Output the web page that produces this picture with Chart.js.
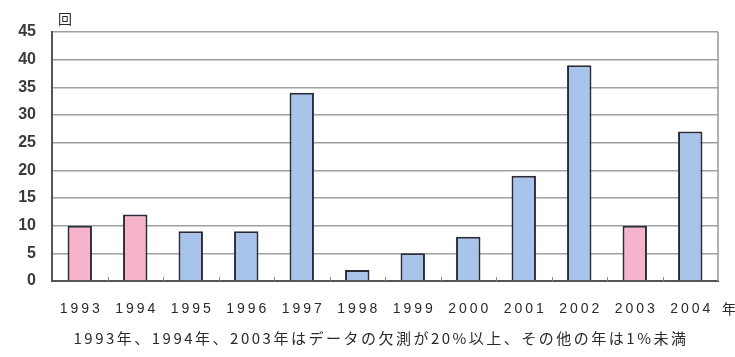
<!DOCTYPE html>
<html>
<head>
<meta charset="utf-8">
<script src="https://cdn.jsdelivr.net/npm/chart.js@4"></script>
<style>
  body { margin: 0; background: #fff; }
  #chart { display: block; }
</style>
</head>
<body>
<canvas id="chart" width="735" height="357"></canvas>
<script>
const years = ["1993", "1994", "1995", "1996", "1997", "1998", "1999", "2000", "2001", "2002", "2003", "2004"];
const counts = [10, 12, 9, 9, 34, 2, 5, 8, 19, 39, 10, 27];
// years with 20% or more missing data
const missingYears = ["1993", "1994", "2003"];
const yTicks = [0, 5, 10, 15, 20, 25, 30, 35, 40, 45];

const pink = "#f6b3cb";
const blue = "#a9c4ea";

const labelsPlugin = {
  id: "labels",
  afterDraw(chart) {
    const ctx = chart.ctx;
    const area = chart.chartArea;
    const x = chart.scales.x;
    ctx.save();
    ctx.fillStyle = "#2a2a2a";
    ctx.textBaseline = "middle";

    // year labels, spaced out a little
    ctx.font = "14px 'Liberation Sans'";
    ctx.letterSpacing = "3px";
    ctx.textAlign = "center";
    years.forEach((y, i) => {
      ctx.fillText(y, x.getPixelForValue(i) + 1.5, 309);
    });

    ctx.font = "14px 'Noto Sans CJK JP'";
    ctx.letterSpacing = "0px";
    ctx.textAlign = "left";
    ctx.fillText("回", 58, 19);
    ctx.fillText("年", 722, 309);

    ctx.textAlign = "center";
    ctx.font = "15px 'Noto Sans CJK JP'";
    ctx.letterSpacing = "2.5px";
    ctx.fillText("1993年、1994年、2003年はデータの欠測が20%以上、その他の年は1%未満", 381, 338);
    ctx.letterSpacing = "0px";

    // small tick marks between the categories, pointing into the plot
    ctx.strokeStyle = "#888";
    ctx.lineWidth = 1;
    for (let i = 1; i < years.length; i++) {
      const px = Math.round((x.getPixelForValue(i - 1) + x.getPixelForValue(i)) / 2) + 0.5;
      ctx.beginPath();
      ctx.moveTo(px, area.bottom);
      ctx.lineTo(px, area.bottom - 4);
      ctx.stroke();
    }
    // right edge of the plot
    ctx.strokeStyle = "#999";
    ctx.lineWidth = 1.5;
    ctx.beginPath();
    ctx.moveTo(area.right, area.top);
    ctx.lineTo(area.right, area.bottom);
    ctx.stroke();
    ctx.restore();
  }
};

new Chart(document.getElementById("chart").getContext("2d"), {
  type: "bar",
  data: {
    labels: years,
    datasets: [
      {
        data: counts,
        backgroundColor: years.map(y => missingYears.includes(y) ? pink : blue),
        borderColor: "#2b2b38",
        borderWidth: 2,
        barPercentage: 0.44,
        categoryPercentage: 1,
      },
    ],
  },
  options: {
    responsive: false,
    animation: false,
    layout: { padding: { top: 32, right: 17, left: 0, bottom: 0 } },
    plugins: {
      legend: { display: false },
      tooltip: { enabled: false },
    },
    scales: {
      x: {
        grid: { display: false, drawTicks: false },
        border: { color: "#555", width: 2 },
        ticks: { display: false },
        afterFit(scale) { scale.height = 76; },
      },
      y: {
        min: 0,
        max: 45,
        afterBuildTicks(scale) { scale.ticks = yTicks.map(v => ({ value: v })); },
        grid: { color: "#a0a0a0", lineWidth: 1.5, drawTicks: false },
        border: { color: "#555", width: 2 },
        ticks: {
          color: "#3a3a3a",
          padding: 16,
          font: { family: "'Liberation Sans'", size: 16, weight: "bold" },
        },
        afterFit(scale) { scale.width = 52; },
      },
    },
  },
  plugins: [labelsPlugin],
});
</script>
</body>
</html>
